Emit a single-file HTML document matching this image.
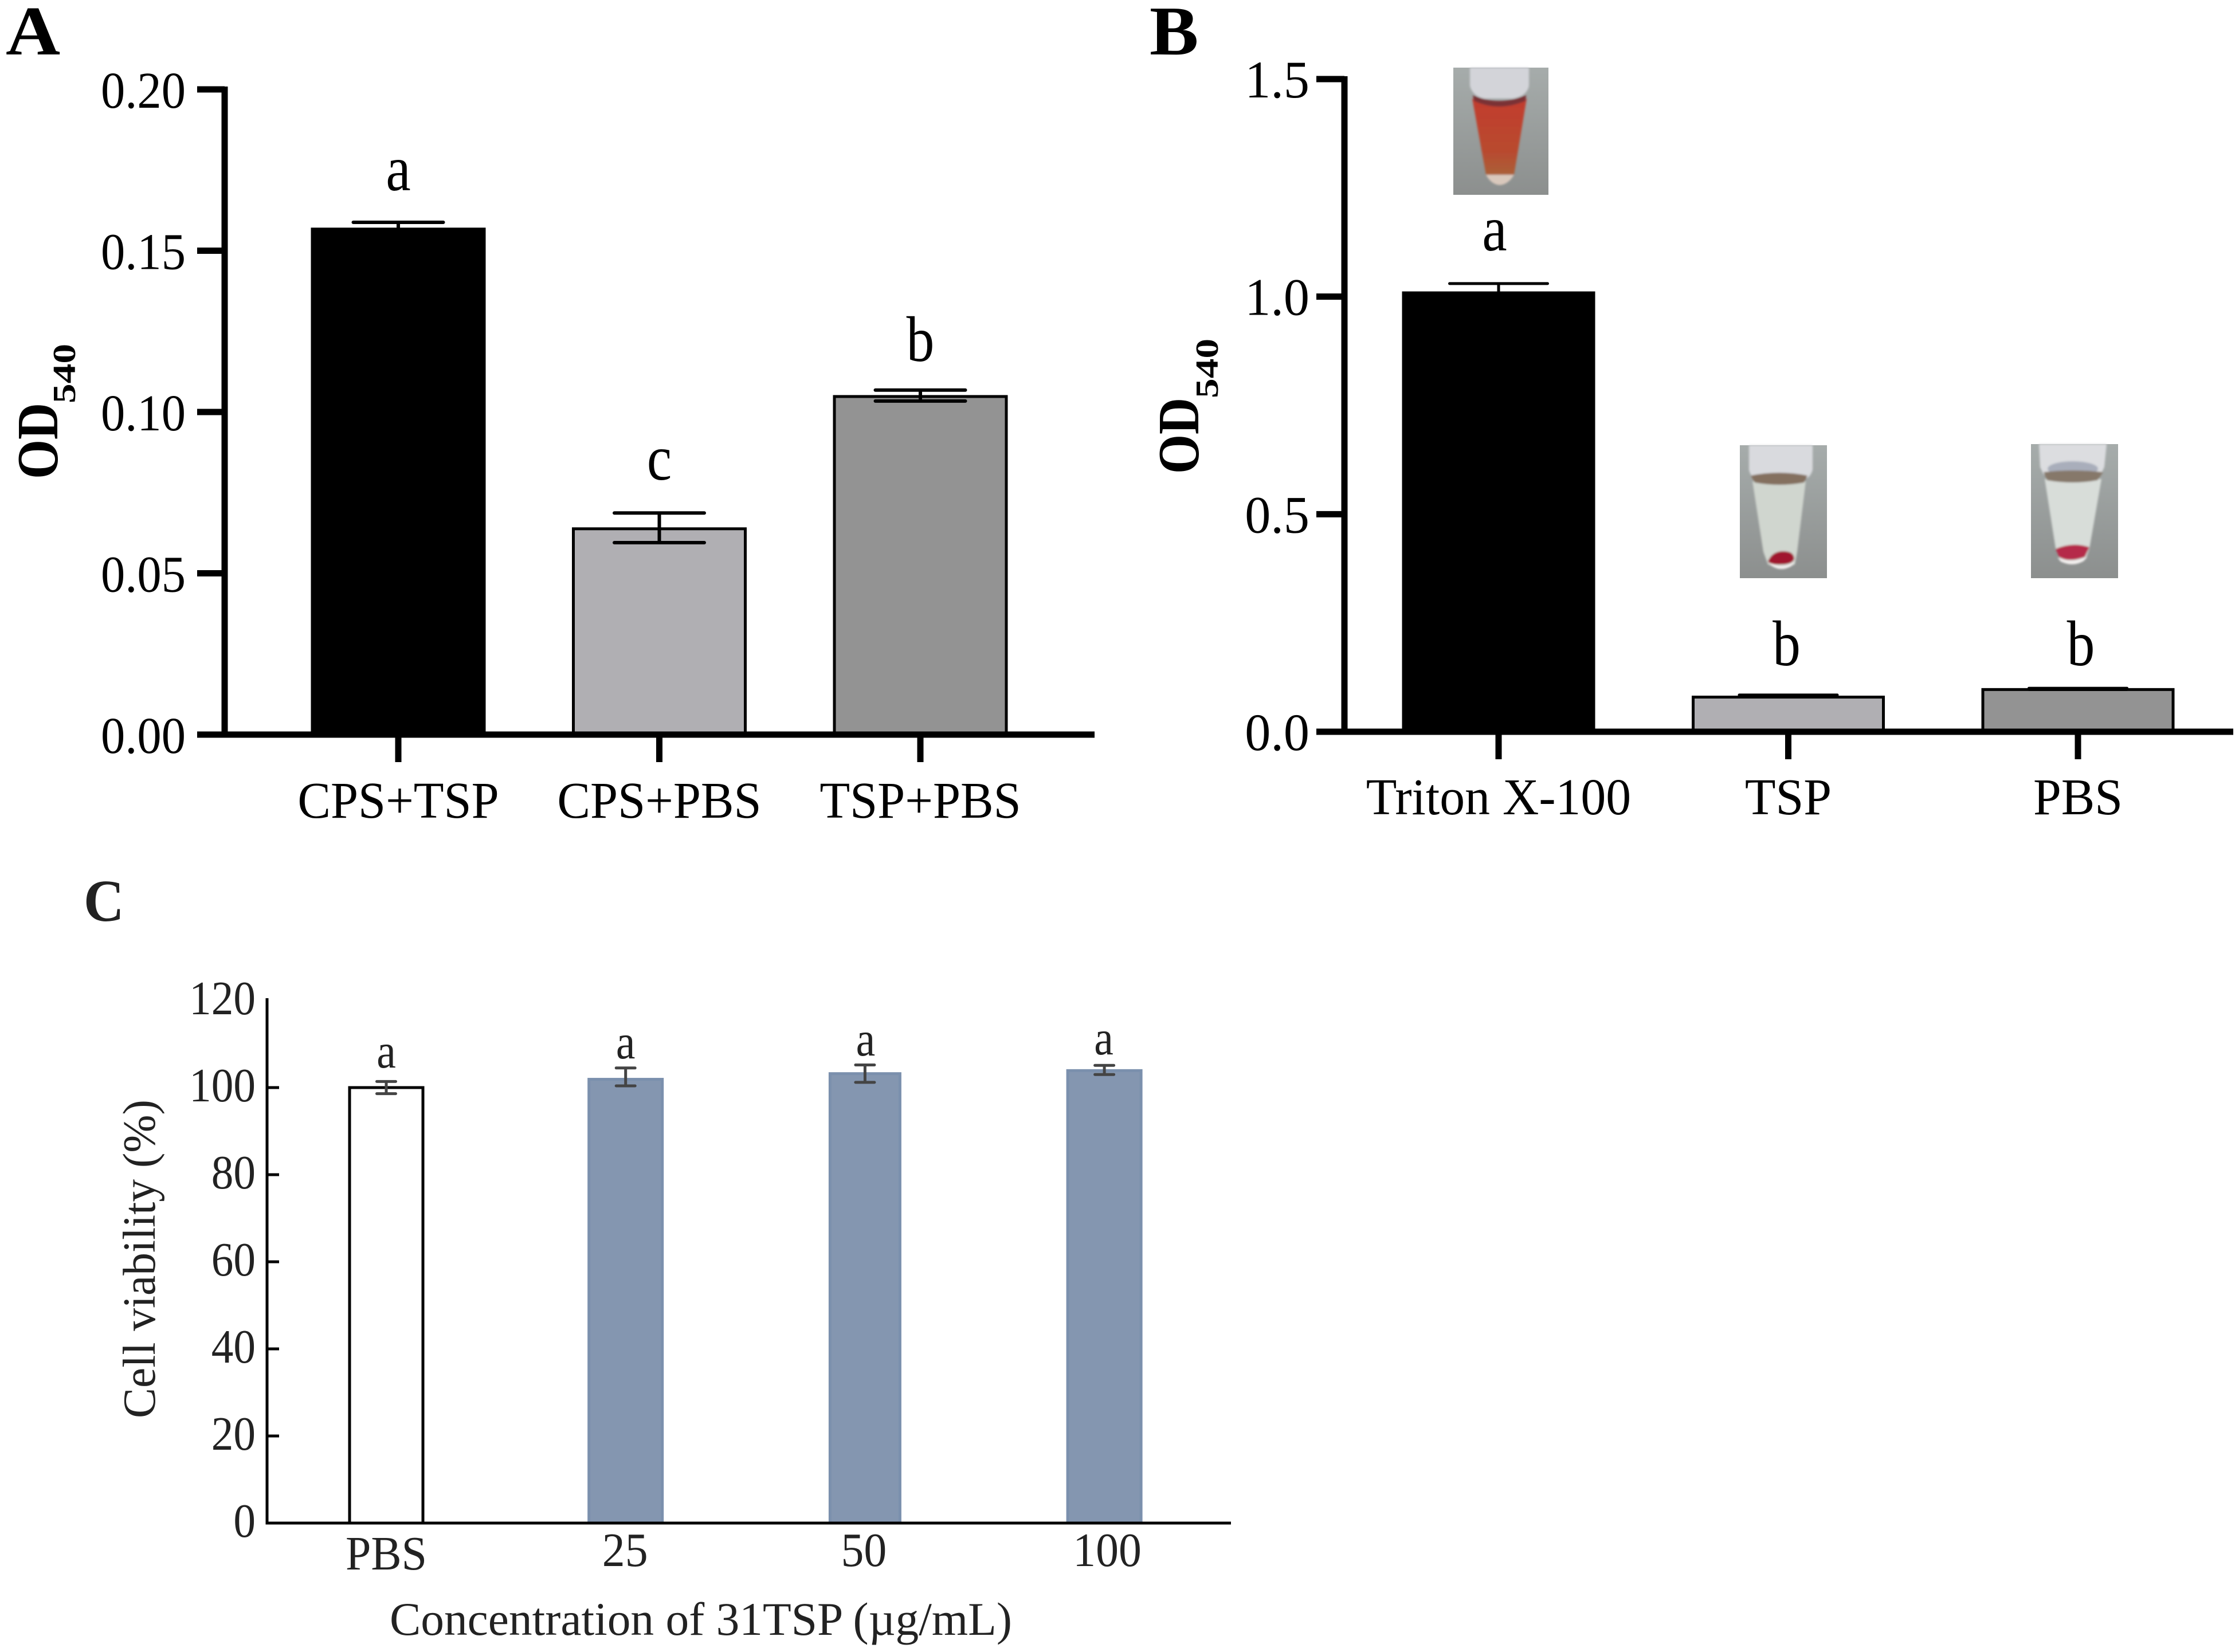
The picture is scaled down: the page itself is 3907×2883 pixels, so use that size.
<!DOCTYPE html>
<html lang="en">
<head>
<meta charset="utf-8">
<title>OD540 and cell viability bar charts</title>
<style>
html,body{margin:0;padding:0;background:#fff;}
svg{display:block;}
text{font-family:"Liberation Serif","Times New Roman",serif;}
</style>
</head>
<body>
<svg id="figure" xmlns="http://www.w3.org/2000/svg" width="3907" height="2883" viewBox="0 0 3907 2883">
  <defs>
    <linearGradient id="bgGrad" x1="0" y1="0" x2="0" y2="1">
      <stop offset="0" stop-color="#a6acab"/>
      <stop offset="1" stop-color="#8c8f8e"/>
    </linearGradient>
    <linearGradient id="redGrad" x1="0" y1="0" x2="0" y2="1">
      <stop offset="0" stop-color="#c23c2e"/>
      <stop offset="0.7" stop-color="#b84a2f"/>
      <stop offset="1" stop-color="#aa6038"/>
    </linearGradient>
    <filter id="soft" x="-5%" y="-5%" width="110%" height="110%"><feGaussianBlur stdDeviation="1.8"/></filter>
  </defs>
  <rect x="0" y="0" width="3907" height="2883" fill="#fff"/>

  <text transform="translate(10,95) scale(1.08,1)" font-size="122" font-weight="bold" fill="#000">A</text>
  <text transform="translate(2006,95) scale(1.05,1)" font-size="122" font-weight="bold" fill="#000">B</text>
  <text transform="translate(146,1607) scale(.94,1)" font-size="104" font-weight="bold" fill="#222">C</text>

  <g id="panelA"></g>
  <g id="panelB"></g>
  <g id="panelC"></g>

  <g font-weight="bold" fill="#000">
    <text transform="translate(100,836) rotate(-90) scale(.87,1)" font-size="102">OD</text>
    <text transform="translate(131,704) rotate(-90) scale(1.24,1)" font-size="56">540</text>
  </g>
  <g font-weight="bold" fill="#000">
    <text transform="translate(2091,827) rotate(-90) scale(.87,1)" font-size="102">OD</text>
    <text transform="translate(2125,695) rotate(-90) scale(1.24,1)" font-size="56">540</text>
  </g>
  <text transform="translate(270,2475) rotate(-90)" font-size="80" fill="#222" textLength="556" lengthAdjust="spacingAndGlyphs">Cell viability (%)</text>
  <text x="680" y="2853" font-size="82" fill="#222" textLength="1086" lengthAdjust="spacingAndGlyphs">Concentration of 31TSP (µg/mL)</text>

  <g>
    <rect x="2536" y="118" width="166" height="222" fill="url(#bgGrad)"/>
    <g filter="url(#soft)">
      <path d="M2565 118 L2668 118 L2668 150 Q2664 168 2640 172 L2590 172 Q2570 168 2565 150 Z" fill="#d3d4d9"/>
      <path d="M2569 172 Q2615 192 2664 172 L2642 305 L2593 305 Z" fill="url(#redGrad)"/>
      <path d="M2570 166 Q2615 186 2663 166 L2662 176 Q2615 196 2572 176 Z" fill="#7a3236"/>
      <path d="M2593 305 L2642 305 Q2632 322 2617 323 Q2602 322 2593 305 Z" fill="#d9c8bc"/>
    </g>
  </g>
  <g>
    <rect x="3036" y="777" width="152" height="232" fill="url(#bgGrad)"/>
    <g filter="url(#soft)">
      <path d="M3052 777 L3163 777 L3163 820 Q3160 830 3154 834 L3058 834 Q3053 825 3052 820 Z" fill="#d9dade"/>
      <path d="M3058 840 Q3105 848 3151 840 L3136 963 L3132 985 Q3108 996 3085 985 L3077 963 Z" fill="#d0d6cf"/>
      <path d="M3055 830 Q3105 820 3154 830 L3148 842 Q3105 850 3062 842 Z" fill="#84705f"/>
      <path d="M3086 980 Q3108 996 3132 980 L3126 988 Q3108 998 3092 988 Z" fill="#f4f1f0"/>
      <path d="M3085 980 Q3092 962 3112 962 Q3130 962 3131 975 Q3128 985 3108 985 Q3090 986 3085 980 Z" fill="#a0142e"/>
    </g>
  </g>
  <g>
    <rect x="3544" y="775" width="152" height="234" fill="url(#bgGrad)"/>
    <g filter="url(#soft)">
      <path d="M3558 775 L3676 775 L3672 815 L3666 828 L3566 828 L3560 815 Z" fill="#dcdde0"/>
      <ellipse cx="3617" cy="818" rx="44" ry="13" fill="#a9aebb"/>
      <path d="M3568 836 L3667 836 L3646 957 L3640 975 Q3617 992 3594 975 L3587 957 Z" fill="#d8ddd9"/>
      <path d="M3566 824 Q3617 818 3670 824 L3660 838 Q3617 846 3572 838 Z" fill="#86786a"/>
      <path d="M3590 973 Q3615 986 3642 972 L3636 979 Q3617 990 3596 980 Z" fill="#f4f1f0"/>
      <path d="M3587 958 Q3617 945 3646 955 L3638 972 Q3610 982 3593 972 Z" fill="#b52a4a"/>
    </g>
  </g>
</svg>

<script>
/* Panel A data */
const categoriesA = ['CPS+TSP', 'CPS+PBS', 'TSP+PBS'];
const valuesA = [0.1567, 0.0638, 0.1048];
const errHighA = [0.1588, 0.0687, 0.1068];
const errLowA = [0.1546, 0.0595, 0.1034];
const lettersA = ['a', 'c', 'b'];
const tickValuesA = [0, 0.05, 0.10, 0.15, 0.20];
const tickLabelsA = ['0.00', '0.05', '0.10', '0.15', '0.20'];

/* Panel B data */
const categoriesB = ['Triton X-100', 'TSP', 'PBS'];
const valuesB = [1.0087, 0.0796, 0.097];
const errHighB = [1.03, 0.0845, 0.1]; 
const errLowB = [0.99, 0.0796, 0.097];
const lettersB = ['a', 'b', 'b'];
const tickValuesB = [0, 0.5, 1.0, 1.5];
const tickLabelsB = ['0.0', '0.5', '1.0', '1.5'];

/* Panel C data */
const categoriesC = ['PBS', '25', '50', '100'];
const valuesC = [100, 101.9, 103.2, 103.9];
const errHighC = [101.4, 104.5, 105.2, 105.1];
const errLowC = [98.6, 100.4, 101.2, 103];
const lettersC = ['a', 'a', 'a', 'a'];
const tickValuesC = [0, 20, 40, 60, 80, 100];
const labelValuesC = [0, 20, 40, 60, 80, 100, 120];
const tickLabelsC = ['0', '20', '40', '60', '80', '100', '120'];

const SVG_NS = 'http://www.w3.org/2000/svg';

function make(tag, parent, attrs) {
  const el = document.createElementNS(SVG_NS, tag);
  for (const k in attrs) el.setAttribute(k, attrs[k]);
  parent.appendChild(el);
  return el;
}

function makeText(parent, str, x, y, size, anchor, sx, fill) {
  const el = make('text', parent, {
    transform: 'translate(' + x + ',' + y + ') scale(' + sx + ',1)',
    'font-size': size,
    'text-anchor': anchor,
    fill: fill
  });
  el.textContent = str;
  return el;
}

function drawPanel(root, d, s) {
  const xScale = function (i) { return s.x0 + i * s.step; };
  const yScale = function (v) { return s.yZero - (v / s.yMax) * (s.yZero - s.yTop); };

  d.values.forEach(function (v, i) {
    const cx = xScale(i);
    const bar = make('rect', root, {
      x: cx - s.barW[i] / 2,
      y: yScale(v),
      width: s.barW[i],
      height: s.yZero - yScale(v),
      fill: s.fills[i],
      stroke: s.strokes[i],
      'stroke-width': s.barStroke
    });
    
    

    const err = make('path', root, {
      d: 'M' + (cx - s.capW / 2) + ' ' + yScale(d.errHigh[i]) + 'H' + (cx + s.capW / 2) +
         'M' + cx + ' ' + yScale(d.errHigh[i]) + 'V' + yScale(d.errLow[i]) +
         'M' + (cx - s.capW / 2) + ' ' + yScale(d.errLow[i]) + 'H' + (cx + s.capW / 2),
      fill: 'none',
      stroke: s.errColor,
      'stroke-width': s.errStroke,
      'stroke-linecap': 'round'
    });
    
    

    const letter = makeText(root, d.letters[i], cx + s.letterDx[i], s.letterY[i], s.letterSize, 'middle', s.letterSx, s.textColor);
    
    

    const label = makeText(root, d.categories[i], cx + s.xLabelDx[i], s.xLabelY[i], s.xLabelSize, 'middle', s.xLabelSx, s.textColor);
    
    

    if (s.xTickLen > 0) {
      const xTick = make('line', root, {
        x1: cx, x2: cx, y1: s.yZero, y2: s.yZero + s.xTickLen,
        stroke: '#000', 'stroke-width': s.axisW
      });
      
      
    }
  });

  const yAxis = make('line', root, {
    x1: s.axisX, x2: s.axisX, y1: s.axisTop, y2: s.yZero + s.axisW / 2,
    stroke: '#000', 'stroke-width': s.axisW
  });
  
  

  const xAxis = make('line', root, {
    x1: s.axisLeft, x2: s.axisRight, y1: s.yZero, y2: s.yZero,
    stroke: '#000', 'stroke-width': s.axisH
  });
  
  

  d.tickValues.forEach(function (v) {
    const yTick = make('line', root, {
      x1: s.axisX + s.yTickFrom, x2: s.axisX + s.yTickTo, y1: yScale(v), y2: yScale(v),
      stroke: '#000', 'stroke-width': s.axisH
    });
    
    
  });

  d.labelValues.forEach(function (v, i) {
    const yLabel = makeText(root, d.tickLabels[i], s.yLabelX, yScale(v) + s.yLabelDy, s.yLabelSize, 'end', s.yLabelSx, s.textColor);
    
    
  });
}

drawPanel(document.getElementById('panelA'), {
  categories: categoriesA, values: valuesA, errHigh: errHighA, errLow: errLowA,
  letters: lettersA, tickValues: tickValuesA, labelValues: tickValuesA, tickLabels: tickLabelsA
}, {
  x0: 695, step: 455.5, barW: [300, 300, 300], barStroke: 5, capW: 157, errStroke: 6, errColor: '#000',
  fills: ['#000000', '#b0afb3', '#939393'], strokes: ['#000', '#000', '#000'],
  yZero: 1282, yTop: 156, yMax: 0.20, axisX: 392, axisTop: 151, axisW: 11, axisH: 11,
  axisLeft: 344, axisRight: 1910, yTickFrom: -48, yTickTo: 0, xTickLen: 48,
  yLabelX: 324, yLabelDy: 32, yLabelSize: 90, yLabelSx: .94,
  xLabelDx: [0, 0, 0], xLabelY: [1427, 1427, 1427], xLabelSize: 90, xLabelSx: .96,
  letterDx: [0, 0, 0], letterY: [332, 837, 630], letterSize: 112, letterSx: .87, textColor: '#000'
});

drawPanel(document.getElementById('panelB'), {
  categories: categoriesB, values: valuesB, errHigh: errHighB, errLow: errLowB,
  letters: lettersB, tickValues: tickValuesB, labelValues: tickValuesB, tickLabels: tickLabelsB
}, {
  x0: 2615, step: 505.5, barW: [332, 332, 332], barStroke: 5, capW: 171, errStroke: 5, errColor: '#000',
  fills: ['#000000', '#b0afb3', '#939393'], strokes: ['#000', '#000', '#000'],
  yZero: 1277, yTop: 138, yMax: 1.5, axisX: 2346, axisTop: 133, axisW: 11, axisH: 11,
  axisLeft: 2297, axisRight: 3897, yTickFrom: -49, yTickTo: 0, xTickLen: 48,
  yLabelX: 2285, yLabelDy: 32, yLabelSize: 92, yLabelSx: .98,
  xLabelDx: [0, 0, 0], xLabelY: [1421, 1421, 1421], xLabelSize: 90, xLabelSx: .975,
  letterDx: [-7, -3, 5], letterY: [437, 1161, 1161], letterSize: 112, letterSx: .87, textColor: '#000'
});

drawPanel(document.getElementById('panelC'), {
  categories: categoriesC, values: valuesC, errHigh: errHighC, errLow: errLowC,
  letters: lettersC, tickValues: tickValuesC, labelValues: labelValuesC, tickLabels: tickLabelsC
}, {
  x0: 674, step: 417.7, barW: [128, 128, 122, 128], barStroke: 5, capW: 33, errStroke: 5, errColor: '#444',
  fills: ['#ffffff', '#8496b0', '#8496b0', '#8496b0'], strokes: ['#000', '#7b90ad', '#7b90ad', '#7b90ad'],
  yZero: 2658, yTop: 1898, yMax: 100, axisX: 466, axisTop: 1742, axisW: 5, axisH: 5,
  axisLeft: 464, axisRight: 2148, yTickFrom: 0, yTickTo: 21, xTickLen: 0,
  yLabelX: 446, yLabelDy: 24, yLabelSize: 84, yLabelSx: .92,
  xLabelDx: [0, -1, -2, 5], xLabelY: [2739, 2733, 2733, 2733], xLabelSize: 84, xLabelSx: .95,
  letterDx: [0, 0, 1, -1], letterY: [1863, 1847, 1842, 1840], letterSize: 86, letterSx: .88, textColor: '#222'
});
</script>
</body>
</html>
